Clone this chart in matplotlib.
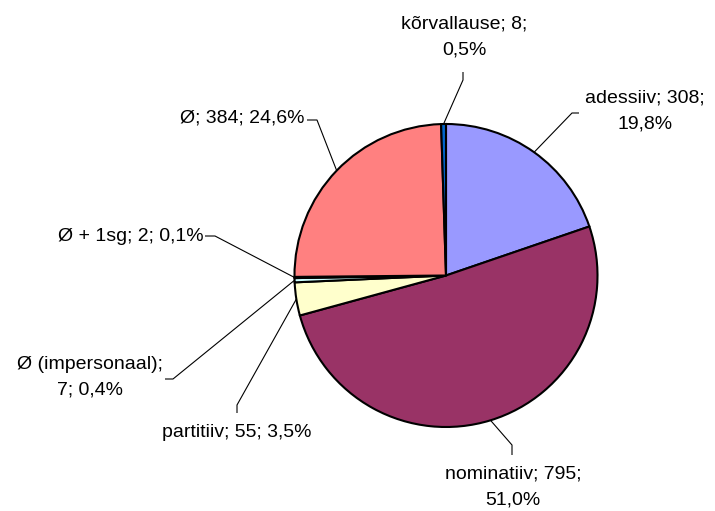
import numpy as np
import matplotlib
matplotlib.use('Agg')
import matplotlib.pyplot as plt

plt.rcParams['font.family'] = ['Liberation Sans', 'DejaVu Sans']

# slices, clockwise from the top
categories = ['adessiiv', 'nominatiiv', 'partitiiv', 'Ø (impersonaal)', 'Ø + 1sg', 'Ø', 'kõrvallause']
counts = [308, 795, 55, 7, 2, 384, 8]
colors = ['#9999FF', '#993366', '#FFFFCC', '#CCFFFF', '#660066', '#FF8080', '#0066CC']

W, H = 715, 511
cx, cy, r = 446, 275.5, 151.5


def Y(y):
    # picture rows -> axes y
    return H - y


fig = plt.figure(figsize=(7.15, 5.11), dpi=100)
ax = fig.add_axes([0, 0, 1, 1])

wedges, _ = ax.pie(counts, colors=colors, startangle=90, counterclock=False,
                   center=(cx, Y(cy)), radius=r,
                   wedgeprops=dict(edgecolor='black', linewidth=1.5))

ax.set_xlim(0, W)
ax.set_ylim(0, H)
ax.set_aspect('equal')
ax.axis('off')

total = sum(counts)
labels = []
for name, n in zip(categories, counts):
    pct = f'{100 * n / total:.1f}'.replace('.', ',')
    labels.append((name, n, pct))

# label layout: text position, alignment, elbow points (pixels)
layout = {
    'adessiiv': dict(xy=(645, 111), ha='center', two=True, path=[(572, 113), (579, 113)]),
    'nominatiiv': dict(xy=(513, 487), ha='center', two=True, path=[(512, 445), (512, 455)]),
    'partitiiv': dict(xy=(237, 432), ha='center', two=False, path=[(237, 405), (237, 413)]),
    'Ø (impersonaal)': dict(xy=(90, 377), ha='center', two=True, path=[(173, 379), (165, 379)]),
    'Ø + 1sg': dict(xy=(204, 236), ha='right', two=False, path=[(215, 236), (205, 236)]),
    'Ø': dict(xy=(305, 118), ha='right', two=False, path=[(317, 120), (307, 120)]),
    'kõrvallause': dict(xy=(464, 37), ha='center', two=True, path=[(463, 80), (463, 72)]),
}

for w, (name, n, pct) in zip(wedges, labels):
    L = layout[name]
    ang = np.deg2rad((w.theta1 + w.theta2) / 2)
    ax_x = cx + r * np.cos(ang)
    ax_y = Y(cy) + r * np.sin(ang)
    xs = [ax_x] + [p[0] for p in L['path']]
    ys = [ax_y] + [Y(p[1]) for p in L['path']]
    ax.plot(xs, ys, color='black', lw=0.8, solid_capstyle='butt')

    if L['two']:
        if name == 'Ø (impersonaal)':
            txt = f'{name};\n{n}; {pct}%'
        else:
            txt = f'{name}; {n};\n{pct}%'
    else:
        txt = f'{name}; {n}; {pct}%'
    ax.text(L['xy'][0], Y(L['xy'][1]), txt, ha=L['ha'], va='center',
            fontsize=14, linespacing=1.65, multialignment='center')

fig.savefig('out.png', dpi=100)
